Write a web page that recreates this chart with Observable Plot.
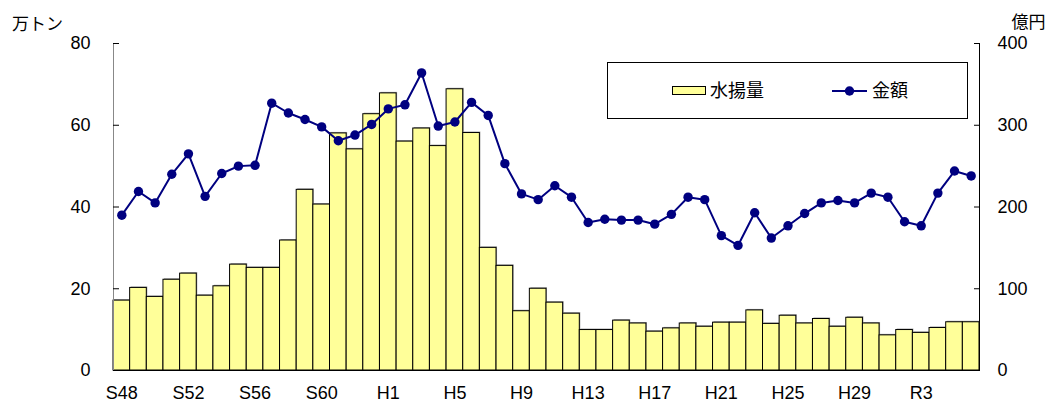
<!DOCTYPE html>
<html>
<head>
<meta charset="utf-8">
<script src="https://cdn.jsdelivr.net/npm/d3@7"></script>
<script src="https://cdn.jsdelivr.net/npm/@observablehq/plot@0.6"></script>
<style>
  body { margin: 0; background: #fff; }
</style>
</head>
<body>
<div id="chart"></div>
<script>
// Fiscal years in Japanese era notation (Showa 48 – Reiwa 6)
const years = [
  "S48","S49","S50","S51","S52","S53","S54","S55","S56","S57","S58","S59","S60","S61","S62","S63",
  "H1","H2","H3","H4","H5","H6","H7","H8","H9","H10","H11","H12","H13","H14","H15","H16","H17","H18",
  "H19","H20","H21","H22","H23","H24","H25","H26","H27","H28","H29","H30",
  "R1","R2","R3","R4","R5","R6"
];

// Landings (万トン)
const landings = [
  17.1, 20.2, 18.0, 22.2, 23.7, 18.3, 20.6, 25.9, 25.1, 25.1,
  31.8, 44.2, 40.6, 58.0, 54.1, 62.7, 67.8, 56.0, 59.2, 54.9,
  68.8, 58.1, 30.0, 25.6, 14.5, 20.0, 16.6, 13.9, 9.9, 9.9,
  12.2, 11.5, 9.5, 10.3, 11.5, 10.7, 11.7, 11.7, 14.7, 11.4,
  13.4, 11.5, 12.6, 10.7, 12.9, 11.5, 8.6, 9.9, 9.2, 10.4,
  11.8, 11.8
];

// Landed value (億円)
const amounts = [
  190, 219, 205, 240, 265, 213, 241, 250, 251, 327,
  315, 307, 298, 281, 288, 301, 320, 325, 364, 299,
  304, 328, 312, 253, 216, 209, 226, 212, 181, 185,
  184, 184, 179, 191, 212, 209, 165, 153, 193, 162,
  177, 192, 205, 208, 205, 217, 212, 182, 177, 217,
  244, 238
];

// Labelled years on the horizontal axis
const xTicks = ["S48","S52","S56","S60","H1","H5","H9","H13","H17","H21","H25","H29","R3"];
// Left axis ticks (万トン); the right axis shows the same positions × 5 (億円)
const yTicks = [0, 20, 40, 60, 80];
const amountPerTon = 5;

const rows = years.map((year, i) => ({year, landings: landings[i], amount: amounts[i]}));

const font = "'Liberation Sans', Arial, 'Noto Sans CJK JP', sans-serif";
const navy = "#000080";
const yellow = "#FFFF99";

const plot = Plot.plot({
  width: 1051,
  height: 407,
  marginLeft: 113,
  marginRight: 72,
  marginTop: 43,
  marginBottom: 37,
  style: {fontFamily: font, fontSize: "18px", color: "#000", background: "#fff"},
  x: {type: "band", domain: years, padding: 0, label: null},
  y: {domain: [0, 80], label: null},
  marks: [
    // soft shadow behind the bars
    Plot.barY(rows, {x: "year", y: "landings", fill: "#a0a0a0", dx: 1, dy: -1}),
    Plot.barY(rows, {x: "year", y: "landings", fill: yellow, stroke: "#000", strokeWidth: 1}),
    Plot.frame({anchor: "left", stroke: "#888"}),
    Plot.frame({anchor: "right", stroke: "#000"}),
    Plot.ruleY([0], {stroke: "#000"}),
    Plot.axisY({ticks: yTicks, tickSize: -6, tickPadding: 29, label: null}),
    Plot.axisY({anchor: "right", ticks: yTicks, tickSize: -6, tickPadding: 24,
                tickFormat: d => d * amountPerTon, label: null}),
    Plot.axisX({ticks: xTicks, tickSize: 0, tickPadding: 16, label: null}),
    Plot.lineY(rows, {x: "year", y: d => d.amount / amountPerTon, stroke: navy, strokeWidth: 2}),
    Plot.dot(rows, {x: "year", y: d => d.amount / amountPerTon, fill: navy, r: 4.7}),
    // unit labels
    Plot.text(["万トン"], {frameAnchor: "top-left", dx: -76, dy: -26, textAnchor: "middle", fontSize: 17}),
    Plot.text(["億円"], {frameAnchor: "top-right", dx: 49, dy: -28, textAnchor: "middle", fontSize: 17})
  ]
});

// Legend box in the upper right of the plot
const svg = d3.select(plot);
const lg = svg.append("g").attr("font-family", font).attr("font-size", 18).attr("text-anchor", "start");
lg.append("rect").attr("x", 607.5).attr("y", 62.5).attr("width", 360).attr("height", 56)
  .attr("fill", "#fff").attr("stroke", "#000");
lg.append("rect").attr("x", 672.5).attr("y", 86.5).attr("width", 33).attr("height", 8)
  .attr("fill", yellow).attr("stroke", "#000");
lg.append("text").attr("x", 710).attr("y", 91).attr("dy", "0.35em").text("水揚量");
lg.append("line").attr("x1", 832).attr("x2", 867).attr("y1", 91).attr("y2", 91)
  .attr("stroke", navy).attr("stroke-width", 2);
lg.append("circle").attr("cx", 849.5).attr("cy", 91).attr("r", 4.7).attr("fill", navy);
lg.append("text").attr("x", 872).attr("y", 91).attr("dy", "0.35em").text("金額");

document.getElementById("chart").append(plot);
</script>
</body>
</html>
